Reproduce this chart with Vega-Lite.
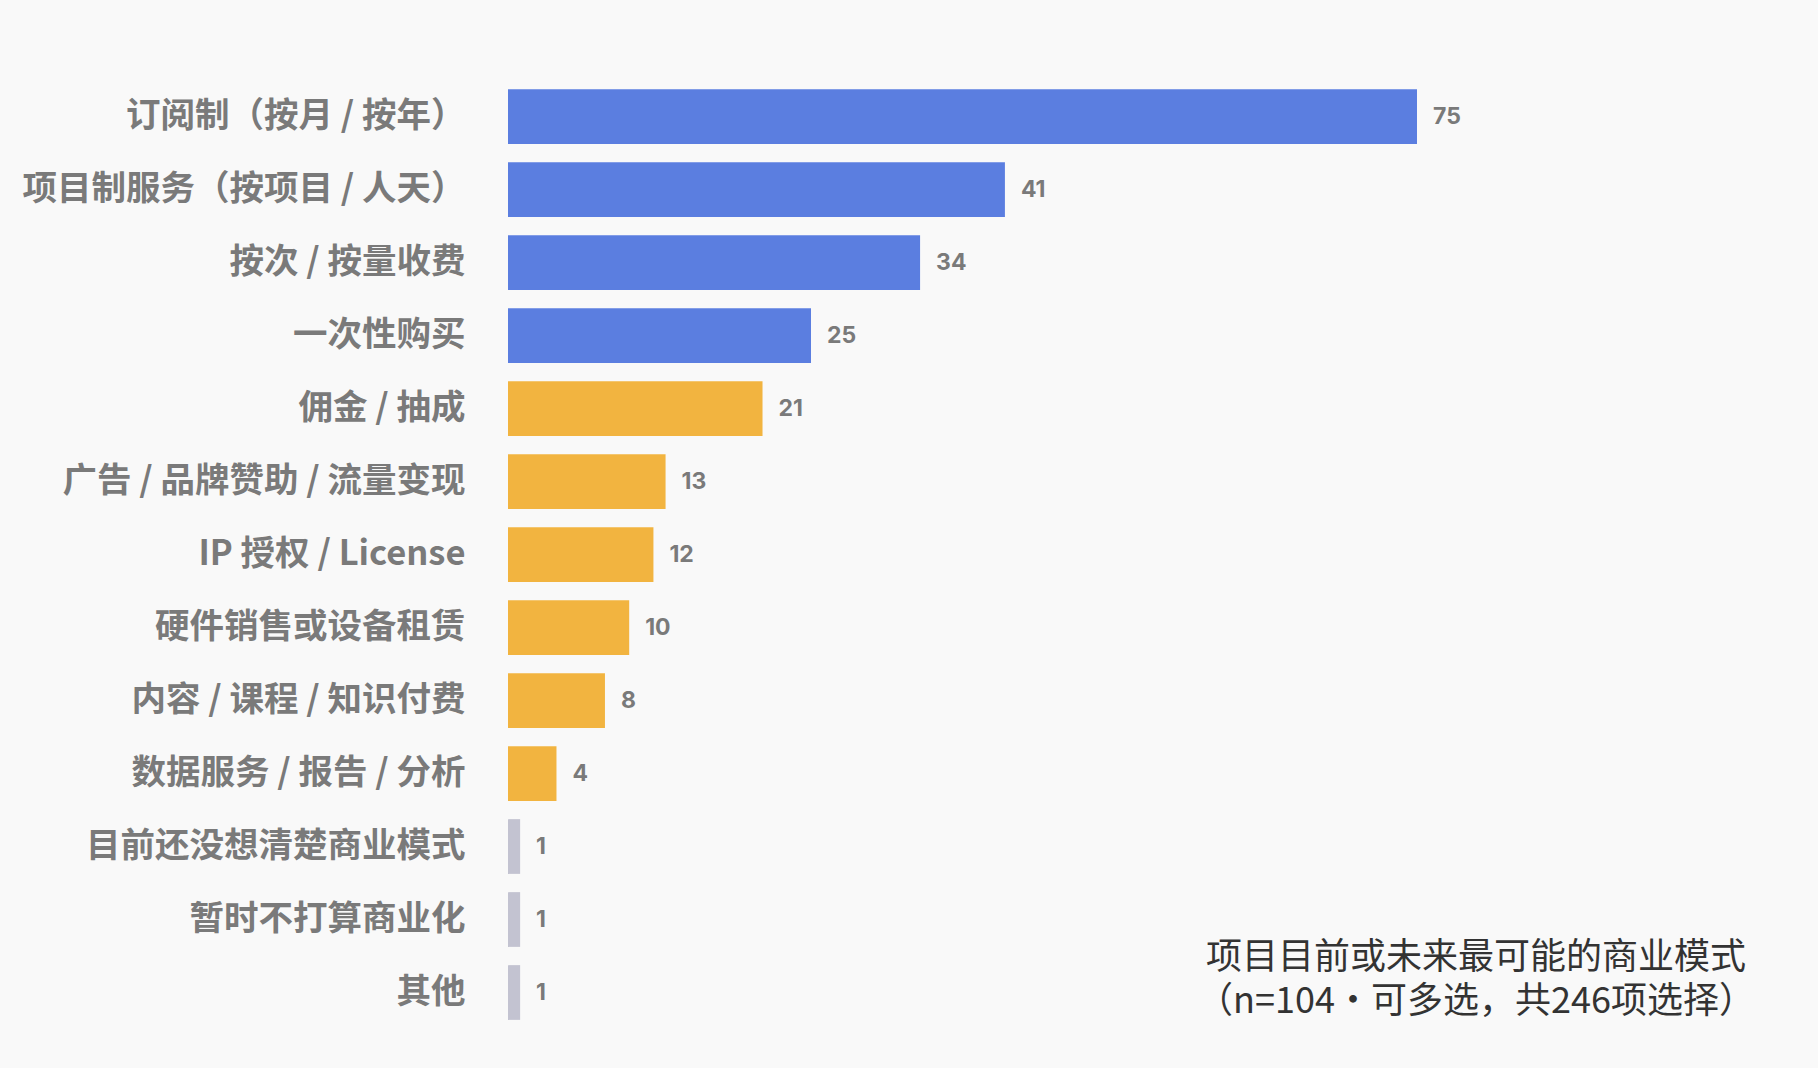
{
  "$schema": "https://vega.github.io/schema/vega-lite/v6.json",
  "width": 1212,
  "height": 949,
  "autosize": {"type": "none"},
  "padding": {"left": 508, "top": 80, "right": 98, "bottom": 39},
  "background": "#F9F9F9",
  "config": {"view": {"stroke": null}},
  "title": {
    "text": ["项目目前或未来最可能的商业模式", "（n=104·可多选，共246项选择）"],
    "orient": "bottom",
    "anchor": "end",
    "align": "center",
    "baseline": "top",
    "dx": -244,
    "dy": -88,
    "offset": 0,
    "font": "Noto Sans CJK SC",
    "fontSize": 36,
    "fontWeight": "normal",
    "lineHeight": 44,
    "color": "#333333"
  },
  "data": {
    "values": [
      {"model": "订阅制（按月 / 按年）", "count": 75, "group": "A"},
      {"model": "项目制服务（按项目 / 人天）", "count": 41, "group": "A"},
      {"model": "按次 / 按量收费", "count": 34, "group": "A"},
      {"model": "一次性购买", "count": 25, "group": "A"},
      {"model": "佣金 / 抽成", "count": 21, "group": "B"},
      {"model": "广告 / 品牌赞助 / 流量变现", "count": 13, "group": "B"},
      {"model": "IP 授权 / License", "count": 12, "group": "B"},
      {"model": "硬件销售或设备租赁", "count": 10, "group": "B"},
      {"model": "内容 / 课程 / 知识付费", "count": 8, "group": "B"},
      {"model": "数据服务 / 报告 / 分析", "count": 4, "group": "B"},
      {"model": "目前还没想清楚商业模式", "count": 1, "group": "C"},
      {"model": "暂时不打算商业化", "count": 1, "group": "C"},
      {"model": "其他", "count": 1, "group": "C"}
    ]
  },
  "encoding": {
    "y": {
      "field": "model",
      "type": "nominal",
      "sort": null,
      "scale": {"paddingInner": 0.25, "paddingOuter": 0.125},
      "axis": {
        "title": null,
        "domain": false,
        "ticks": false,
        "labelPadding": 43,
        "labelFont": "Noto Sans CJK SC",
        "labelFontSize": 34.5,
        "labelFontWeight": "bold",
        "labelColor": "#7A7A7A",
        "labelLimit": 600
      }
    },
    "x": {
      "field": "count",
      "type": "quantitative",
      "scale": {"domain": [0, 100], "nice": false},
      "axis": null
    }
  },
  "layer": [
    {
      "mark": {"type": "bar"},
      "encoding": {
        "color": {
          "field": "group",
          "type": "nominal",
          "scale": {"domain": ["A", "B", "C"], "range": ["#5B7EE0", "#F2B440", "#C3C3D1"]},
          "legend": null
        }
      }
    },
    {
      "mark": {
        "type": "text",
        "align": "left",
        "baseline": "middle",
        "dx": 16,
        "font": "Inter",
        "fontSize": 23,
        "fontWeight": "bold",
        "color": "#7A7A7A"
      },
      "encoding": {"text": {"field": "count", "type": "quantitative"}}
    }
  ]
}
